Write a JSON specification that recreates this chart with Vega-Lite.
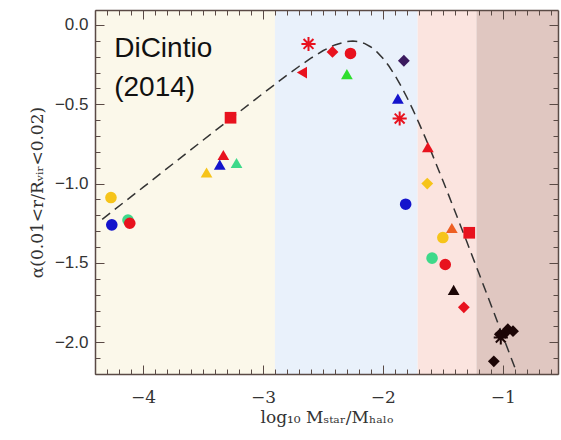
{
  "$schema": "https://vega.github.io/schema/vega-lite/v6.json",
  "width": 463,
  "height": 364,
  "autosize": {"type": "none"},
  "padding": {"left": 95, "top": 10, "right": 3, "bottom": 66},
  "background": "white",
  "config": {"view": {"stroke": null}},
  "datasets": {
    "bands": [
      {"x1": -4.4, "x2": -2.9, "zone": "dwarf"},
      {"x1": -2.9, "x2": -1.71, "zone": "cored"},
      {"x1": -1.71, "x2": -1.22, "zone": "transition"},
      {"x1": -1.22, "x2": -0.54, "zone": "massive"}
    ],
    "curve": [
      {"x": -4.34, "y": -1.225}, {"x": -4.0, "y": -1.024}, {"x": -3.5, "y": -0.727},
      {"x": -3.0, "y": -0.432}, {"x": -2.8, "y": -0.317}, {"x": -2.7, "y": -0.262},
      {"x": -2.6, "y": -0.21}, {"x": -2.5, "y": -0.163}, {"x": -2.4, "y": -0.126},
      {"x": -2.3, "y": -0.105}, {"x": -2.25, "y": -0.102}, {"x": -2.2, "y": -0.106},
      {"x": -2.15, "y": -0.118}, {"x": -2.1, "y": -0.139}, {"x": -2.05, "y": -0.17},
      {"x": -2.0, "y": -0.21}, {"x": -1.95, "y": -0.259}, {"x": -1.9, "y": -0.317},
      {"x": -1.85, "y": -0.383}, {"x": -1.8, "y": -0.456}, {"x": -1.75, "y": -0.534},
      {"x": -1.7, "y": -0.617}, {"x": -1.65, "y": -0.704}, {"x": -1.6, "y": -0.794},
      {"x": -1.55, "y": -0.887}, {"x": -1.5, "y": -0.981}, {"x": -1.45, "y": -1.076},
      {"x": -1.4, "y": -1.173}, {"x": -1.35, "y": -1.27}, {"x": -1.3, "y": -1.367},
      {"x": -1.25, "y": -1.466}, {"x": -1.2, "y": -1.564}, {"x": -1.15, "y": -1.663},
      {"x": -1.1, "y": -1.762}, {"x": -1.05, "y": -1.861}, {"x": -1.0, "y": -1.96},
      {"x": -0.95, "y": -2.06}, {"x": -0.9, "y": -2.159}
    ],
    "points": [
      {"x": -4.125, "y": -1.23, "sample": "G1", "marker": "circle"},
      {"x": -4.267, "y": -1.088, "sample": "Y", "marker": "circle"},
      {"x": -4.26, "y": -1.26, "sample": "B", "marker": "circle"},
      {"x": -4.11, "y": -1.25, "sample": "R", "marker": "circle"},
      {"x": -3.47, "y": -0.93, "sample": "Y", "marker": "triangle-up"},
      {"x": -3.33, "y": -0.82, "sample": "R", "marker": "triangle-up"},
      {"x": -3.36, "y": -0.88, "sample": "B", "marker": "triangle-up"},
      {"x": -3.22, "y": -0.87, "sample": "G1", "marker": "triangle-up"},
      {"x": -3.27, "y": -0.585, "sample": "R", "marker": "square"},
      {"x": -2.675, "y": -0.3, "sample": "R", "marker": "triangle-left"},
      {"x": -2.42, "y": -0.17, "sample": "R", "marker": "diamond"},
      {"x": -2.27, "y": -0.18, "sample": "R", "marker": "circle"},
      {"x": -2.3, "y": -0.31, "sample": "G2", "marker": "triangle-up"},
      {"x": -1.825, "y": -0.226, "sample": "P", "marker": "diamond"},
      {"x": -1.875, "y": -0.465, "sample": "B", "marker": "triangle-up"},
      {"x": -1.81, "y": -1.13, "sample": "B", "marker": "circle"},
      {"x": -1.625, "y": -0.77, "sample": "R", "marker": "triangle-up"},
      {"x": -1.63, "y": -1.0, "sample": "Y", "marker": "diamond"},
      {"x": -1.425, "y": -1.28, "sample": "O", "marker": "triangle-up"},
      {"x": -1.28, "y": -1.31, "sample": "R", "marker": "square"},
      {"x": -1.5, "y": -1.34, "sample": "Y", "marker": "circle"},
      {"x": -1.59, "y": -1.47, "sample": "G1", "marker": "circle"},
      {"x": -1.48, "y": -1.51, "sample": "R", "marker": "circle"},
      {"x": -1.41, "y": -1.67, "sample": "K", "marker": "triangle-up"},
      {"x": -1.325, "y": -1.78, "sample": "R", "marker": "diamond"},
      {"x": -1.075, "y": -2.12, "sample": "K", "marker": "diamond"},
      {"x": -1.025, "y": -1.95, "sample": "K", "marker": "diamond"},
      {"x": -0.958, "y": -1.918, "sample": "K", "marker": "diamond"},
      {"x": -0.915, "y": -1.93, "sample": "K", "marker": "diamond"},
      {"x": -0.98, "y": -1.94, "sample": "K", "marker": "diamond"}
    ],
    "stars": [
      {"x": -2.62, "y": -0.12, "sample": "R"},
      {"x": -1.86, "y": -0.59, "sample": "R"},
      {"x": -1.017, "y": -1.97, "sample": "K"}
    ],
    "labels": [
      {"x": -4.24, "y": -0.2, "label": "DiCintio"},
      {"x": -4.24, "y": -0.45, "label": "(2014)"}
    ]
  },
  "resolve": {"axis": {"x": "independent", "y": "independent"}, "scale": {"color": "independent"}},
  "layer": [
    {
      "data": {"name": "bands"},
      "mark": {"type": "rect"},
      "encoding": {
        "x": {"field": "x1", "type": "quantitative",
          "scale": {"domain": [-4.4, -0.54], "nice": false, "zero": false},
          "axis": {
            "orient": "bottom", "zindex": 2,
            "values": [-4.4,-4.3,-4.2,-4.1,-4.0,-3.9,-3.8,-3.7,-3.6,-3.5,-3.4,-3.3,-3.2,-3.1,-3.0,-2.9,-2.8,-2.7,-2.6,-2.5,-2.4,-2.3,-2.2,-2.1,-2.0,-1.9,-1.8,-1.7,-1.6,-1.5,-1.4,-1.3,-1.2,-1.1,-1.0,-0.9,-0.8,-0.7,-0.6],
            "format": ".0f",
            "labelExpr": "abs(datum.value - round(datum.value)) < 0.001 ? datum.label : ''",
            "tickSize": {"condition": {"test": "abs(datum.value - round(datum.value)) < 0.001", "value": -9}, "value": -5},
            "tickColor": "#5a4a45", "domainColor": "#5a4a45", "domainWidth": 1.5,
            "labelPadding": 24, "labelFont": "DejaVu Serif", "labelFontSize": 17,
            "labelColor": "#333", "grid": false,
            "title": "log₁₀ Mₛₜₐᵣ/Mₕₐₗₒ", "titleFont": "DejaVu Serif",
            "titleFontSize": 17, "titleFontWeight": "normal", "titleColor": "#333", "titlePadding": 4
          }},
        "x2": {"field": "x2"},
        "color": {"field": "zone", "type": "nominal", "legend": null,
          "scale": {"domain": ["dwarf", "cored", "transition", "massive"],
            "range": ["#fbf8ea", "#e9f1fb", "#fbe4df", "#e0c7c1"]}}
      }
    },
    {
      "data": {"name": "curve"},
      "mark": {"type": "line", "color": "#333", "strokeWidth": 1.5, "strokeDash": [10, 6]},
      "encoding": {
        "x": {"field": "x", "type": "quantitative",
          "scale": {"domain": [-4.4, -0.54], "nice": false, "zero": false},
          "axis": {
            "orient": "top", "zindex": 2,
            "values": [-4.4,-4.3,-4.2,-4.1,-4.0,-3.9,-3.8,-3.7,-3.6,-3.5,-3.4,-3.3,-3.2,-3.1,-3.0,-2.9,-2.8,-2.7,-2.6,-2.5,-2.4,-2.3,-2.2,-2.1,-2.0,-1.9,-1.8,-1.7,-1.6,-1.5,-1.4,-1.3,-1.2,-1.1,-1.0,-0.9,-0.8,-0.7,-0.6],
            "labels": false, "title": null, "grid": false,
            "tickSize": {"condition": {"test": "abs(datum.value - round(datum.value)) < 0.001", "value": -9}, "value": -5},
            "tickColor": "#5a4a45", "domainColor": "#5a4a45", "domainWidth": 1.5
          }},
        "y": {"field": "y", "type": "quantitative",
          "scale": {"domain": [-2.2, 0.094], "nice": false, "zero": false},
          "axis": {
            "orient": "left", "zindex": 2,
            "values": [-2.2,-2.1,-2.0,-1.9,-1.8,-1.7,-1.6,-1.5,-1.4,-1.3,-1.2,-1.1,-1.0,-0.9,-0.8,-0.7,-0.6,-0.5,-0.4,-0.3,-0.2,-0.1,0.0],
            "format": ".1f",
            "labelExpr": "abs(datum.value*2 - round(datum.value*2)) < 0.001 ? datum.label : ''",
            "tickSize": {"condition": {"test": "abs(datum.value*2 - round(datum.value*2)) < 0.001", "value": -9}, "value": -5},
            "tickColor": "#5a4a45", "domainColor": "#5a4a45", "domainWidth": 1.5,
            "labelPadding": 16, "labelFont": "Liberation Sans", "labelFontSize": 17,
            "labelColor": "#333", "grid": false,
            "title": "α(0.01<r/Rᵥᵢᵣ<0.02)", "titleFont": "DejaVu Serif",
            "titleFontSize": 17, "titleFontWeight": "normal", "titleColor": "#333", "titlePadding": 8
          }}
      }
    },
    {
      "data": {"name": "points"},
      "mark": {"type": "point", "filled": true, "opacity": 1},
      "encoding": {
        "x": {"field": "x", "type": "quantitative",
          "scale": {"domain": [-4.4, -0.54], "nice": false, "zero": false}, "axis": null},
        "y": {"field": "y", "type": "quantitative",
          "scale": {"domain": [-2.2, 0.094], "nice": false, "zero": false},
          "axis": {
            "orient": "right", "zindex": 2,
            "values": [-2.2,-2.1,-2.0,-1.9,-1.8,-1.7,-1.6,-1.5,-1.4,-1.3,-1.2,-1.1,-1.0,-0.9,-0.8,-0.7,-0.6,-0.5,-0.4,-0.3,-0.2,-0.1,0.0],
            "labels": false, "title": null, "grid": false,
            "tickSize": {"condition": {"test": "abs(datum.value*2 - round(datum.value*2)) < 0.001", "value": -9}, "value": -5},
            "tickColor": "#5a4a45", "domainColor": "#5a4a45", "domainWidth": 1.5
          }},
        "shape": {"field": "marker", "type": "nominal", "legend": null,
          "scale": {"domain": ["circle", "square", "triangle-up", "triangle-left", "diamond"],
            "range": ["circle", "square", "triangle-up", "triangle-left", "diamond"]}},
        "size": {"field": "marker", "type": "nominal", "legend": null,
          "scale": {"domain": ["circle", "square", "triangle-up", "triangle-left", "diamond"],
            "range": [135, 140, 115, 115, 85]}},
        "color": {"field": "sample", "type": "nominal", "legend": null,
          "scale": {"domain": ["R", "B", "G1", "G2", "Y", "O", "P", "K"],
            "range": ["#e8121e", "#1414cc", "#3ed98a", "#2ede2e", "#f6c41a", "#ee5f22", "#3b1a5e", "#1c0606"]}}
      }
    },
    {
      "data": {"name": "stars"},
      "mark": {"type": "point", "filled": false, "strokeWidth": 2, "size": 200, "opacity": 1,
        "shape": "M-1,0L1,0M0,-1L0,1M-0.7,-0.7L0.7,0.7M-0.7,0.7L0.7,-0.7"},
      "encoding": {
        "x": {"field": "x", "type": "quantitative",
          "scale": {"domain": [-4.4, -0.54], "nice": false, "zero": false}, "axis": null},
        "y": {"field": "y", "type": "quantitative",
          "scale": {"domain": [-2.2, 0.094], "nice": false, "zero": false}, "axis": null},
        "color": {"field": "sample", "type": "nominal", "legend": null,
          "scale": {"domain": ["R", "K"], "range": ["#e8121e", "#1c0606"]}}
      }
    },
    {
      "data": {"name": "labels"},
      "mark": {"type": "text", "align": "left", "baseline": "alphabetic",
        "font": "Liberation Sans", "fontSize": 28, "color": "#111"},
      "encoding": {
        "x": {"field": "x", "type": "quantitative",
          "scale": {"domain": [-4.4, -0.54], "nice": false, "zero": false}, "axis": null},
        "y": {"field": "y", "type": "quantitative",
          "scale": {"domain": [-2.2, 0.094], "nice": false, "zero": false}, "axis": null},
        "text": {"field": "label"}
      }
    }
  ]
}
